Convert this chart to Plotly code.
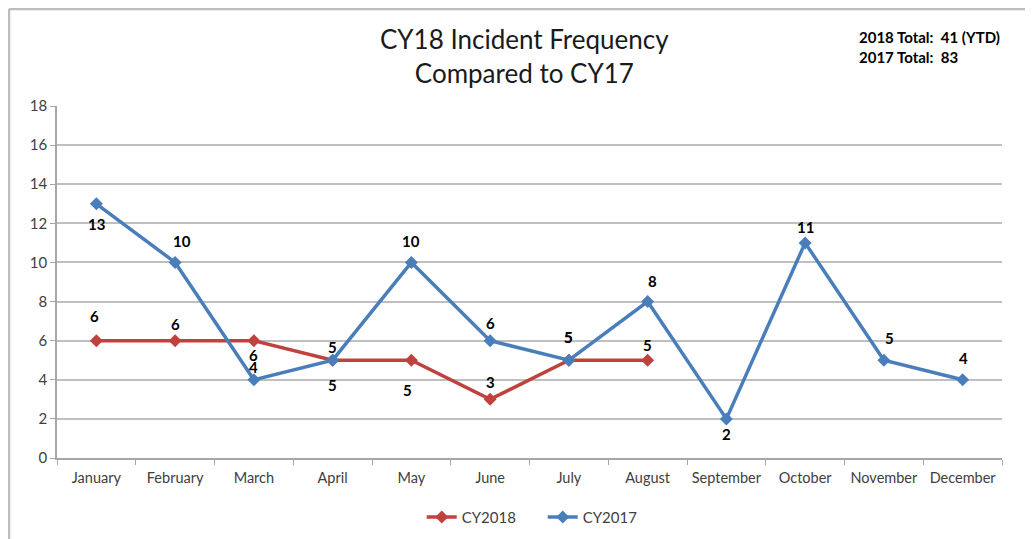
import plotly.graph_objects as go

months = ['January', 'February', 'March', 'April', 'May', 'June', 'July',
          'August', 'September', 'October', 'November', 'December']
cy2018 = [6, 6, 6, 5, 5, 3, 5, 5]
cy2017 = [13, 10, 4, 5, 10, 6, 5, 8, 2, 11, 5, 4]
totals = "2018 Total:\u00a0\u00a041 (YTD)<br>2017 Total:\u00a0\u00a083"

# data-label offsets in pixels (negative = above the point)
dy2018 = [-25, -17, 14, -13, 30, -17, -23, -15]
dx2018 = [-2, 0, 0, 0, -4, 0, 0, 0]
dy2017 = [20, -21, -13, 25, -21, -18, -23, -21, 15, -16, -22, -22]
dx2017 = [0, 7, 0, 0, 0, 0, 0, 5, 0, 0, 6, 1]

FONT = 'Lato'
RED = '#C0423F'
BLUE = '#4A7EBB'

fig = go.Figure()
fig.add_trace(go.Scatter(
    x=months[:len(cy2018)], y=cy2018, name='CY2018', mode='lines+markers',
    line=dict(color=RED, width=3.5),
    marker=dict(symbol='diamond', size=10, color=RED),
))
fig.add_trace(go.Scatter(
    x=months, y=cy2017, name='CY2017', mode='lines+markers',
    line=dict(color=BLUE, width=3.5),
    marker=dict(symbol='diamond', size=10, color=BLUE),
))

for vals, dys, dxs in [(cy2018, dy2018, dx2018), (cy2017, dy2017, dx2017)]:
    for m, v, dy, dx in zip(months, vals, dys, dxs):
        fig.add_annotation(
            x=m, y=v, text='<b>%d</b>' % v, showarrow=False,
            xshift=dx, yshift=-dy, xanchor='center', yanchor='middle',
            font=dict(family=FONT, size=15, color='black'),
        )

fig.update_xaxes(
    type='category', categoryorder='array', categoryarray=months,
    range=[-0.5, 11.5], showline=True, linecolor='#A6A6A6', linewidth=1.5,
    ticks='outside', tickson='boundaries', ticklen=5, tickcolor='#A6A6A6',
    ticklabelstandoff=6, tickangle=0, automargin=False,
    showgrid=False, tickfont=dict(family=FONT, size=14.5, color='#404040'),
)
fig.update_yaxes(
    range=[0, 18], dtick=2, showline=True, linecolor='#A6A6A6', linewidth=1.5,
    ticks='outside', ticklen=5, tickcolor='#A6A6A6', automargin=False,
    gridcolor='#BFBFBF', gridwidth=1.5, zeroline=False,
    tickfont=dict(family=FONT, size=15, color='#404040'),
)

fig.add_annotation(
    text='CY18 Incident Frequency<br>Compared to CY17', xref='paper', yref='paper',
    x=0.495, y=1.142, xanchor='center', yanchor='middle', showarrow=False,
    font=dict(family=FONT, size=26, color='#1a1a1a'),
)
fig.add_annotation(
    text='<b>' + totals + '</b>', xref='paper', yref='paper',
    x=(857 - 57) / 945, y=1 + (106 - 47) / 352, xanchor='left', yanchor='middle',
    align='left', showarrow=False, font=dict(family=FONT, size=15, color='black'),
)

# outer chart frame (top and left edges visible)
fx = -48 / 945
fy = 1 + 97 / 352
fig.add_shape(type='line', xref='paper', yref='paper', x0=fx, x1=1.1,
              y0=fy, y1=fy, line=dict(color='#BDBDBD', width=2.5))
fig.add_shape(type='line', xref='paper', yref='paper', x0=fx, x1=fx,
              y0=fy, y1=-0.3, line=dict(color='#BDBDBD', width=2.5))

# the page body has an 8px margin, so the figure is shrunk to compensate
fig.update_layout(
    width=1025, height=531,
    margin=dict(l=49, r=31, t=98, b=81, autoexpand=False),
    plot_bgcolor='white', paper_bgcolor='white',
    showlegend=True,
    legend=dict(orientation='h', x=0.514, y=-0.168, xanchor='center', yanchor='middle',
                font=dict(family=FONT, size=15, color='#404040'), itemwidth=30,
                entrywidth=76, traceorder='normal'),
)

fig.write_html("out.html")
